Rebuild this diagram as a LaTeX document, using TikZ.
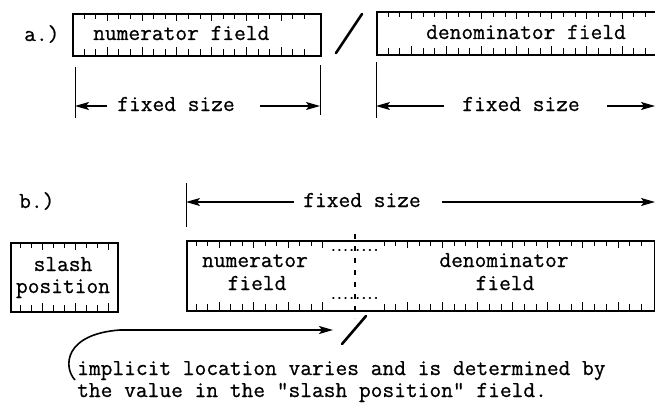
\documentclass[tikz,border=0pt]{standalone}
\usepackage{fontspec}
\usetikzlibrary{arrows.meta}
\newfontfamily\typewriterfont{Latin Modern Mono}[FakeBold=0.7]
\newcommand\typewriterface{\fontsize{22.8}{26}\selectfont\typewriterfont}
% ruler ticks along the inside of a field: first x, second x, last x, top y, bottom y
\newcommand\rulerticks[5]{%
  \foreach \x [count=\i] in {#1,#2,...,#3}{%
    \pgfmathsetmacro\ticklen{mod(\i,3)==0 ? 8 : 6}%
    \draw[tickmark] (\x,#4) -- ++(0,\ticklen);
    \draw[tickmark] (\x,#5) -- ++(0,-\ticklen);
  }}
\tikzset{
  field/.style={draw, line width=1.8pt, inner sep=0pt, anchor=north west},
  tickmark/.style={line width=0.9pt},
  lbl/.style={font=\typewriterface, inner sep=0pt, anchor=base west},
  dimlbl/.style={font=\typewriterface, inner sep=0pt, anchor=base},
  extline/.style={line width=1pt},
  dimarrow/.style={line width=1.3pt, -{Stealth[length=14pt,width=8pt,inset=3pt]}},
  slashmark/.style={line width=2.6pt, line cap=round},
}
\begin{document}
\begin{tikzpicture}[x=1pt,y=-1pt]
\path[use as bounding box] (0,0) rectangle (655,404);
\clip (0,0) rectangle (655,404);

% ---------- a.) fixed numerator and denominator fields ----------
\node[lbl] (tagA) at (24,41) {a.)};
\node[field, minimum width=248pt, minimum height=42pt] (numA) at (72,13) {};
\node[field, minimum width=290pt, minimum height=43pt] (denA) at (376,11) {};
\rulerticks{84}{95.6}{312}{13}{55}
\rulerticks{388}{399.7}{652}{11}{54}
\node[lbl] (numAtxt) at (93,40) {numerator field};
\node[lbl] (denAtxt) at (426,39) {denominator field};

\coordinate (slA1) at (336,53);
\coordinate (slA2) at (362,14);
\draw[slashmark] (slA1) -- (slA2);

% extension lines below the fields
\coordinate (eA1t) at (75,67);  \coordinate (eA1b) at (75,118);
\coordinate (eA2t) at (320,65); \coordinate (eA2b) at (320,115);
\coordinate (eA3t) at (376,62); \coordinate (eA3b) at (376,118);
\draw[extline] (eA1t) -- (eA1b);
\draw[extline] (eA2t) -- (eA2b);
\draw[extline] (eA3t) -- (eA3b);

\coordinate (dA1l) at (75,106);  \coordinate (dA1r) at (320,106);
\coordinate (dA2l) at (376,106); \coordinate (dA2r) at (655,106);
\node[dimlbl] (fsA1) at (176,111) {fixed size};
\node[dimlbl] (fsA2) at (521,111) {fixed size};
\draw[dimarrow, shorten <=10pt] (fsA1.west |- dA1l) -- (dA1l);
\draw[dimarrow, shorten <=25pt] (fsA1.east |- dA1r) -- (dA1r);
\draw[dimarrow, shorten <=18pt] (fsA2.west |- dA2l) -- (dA2l);
\draw[dimarrow, shorten <=27pt] (fsA2.east |- dA2r) -- (dA2r);

% ---------- b.) slash position field and combined fraction field ----------
\node[lbl] (tagB) at (19,208) {b.)};

\coordinate (eBt) at (186,183); \coordinate (eBb) at (186,227);
\draw[extline] (eBt) -- (eBb);
\coordinate (dBl) at (186,202); \coordinate (dBr) at (655,202);
\node[dimlbl] (fsB) at (362,207) {fixed size};
\draw[dimarrow, shorten <=9pt] (fsB.west |- dBl) -- (dBl);
\draw[dimarrow, shorten <=21pt] (fsB.east |- dBr) -- (dBr);

\node[field, minimum width=107pt, minimum height=69pt] (slashpos) at (10,242) {};
\rulerticks{20}{31}{110}{242}{311}
\node[dimlbl] (slashtxt) at (63,271) {slash};
\node[dimlbl] (postxt) at (63,293) {position};

\node[field, minimum width=468pt, minimum height=70pt] (fracB) at (186,240) {};
\rulerticks{196}{207.5}{330}{240}{310}
\rulerticks{384}{395.7}{648}{240}{310}
\node[dimlbl] (numBtxt) at (255,267) {numerator};
\node[dimlbl] (numBtxt2) at (257,290) {field};
\node[dimlbl] (denBtxt) at (504,267) {denominator};
\node[dimlbl] (denBtxt2) at (505,290) {field};

% implicit slash position inside the combined field
\coordinate (divT) at (355,234); \coordinate (divB) at (355,318);
\draw[line width=1.2pt, dash pattern=on 5pt off 7pt] (divT) -- (divB);
\coordinate (dotTl) at (333,250); \coordinate (dotTr) at (381,250);
\coordinate (dotBl) at (333,298); \coordinate (dotBr) at (381,298);
\draw[line width=1.8pt, line cap=round, dash pattern=on 0.6pt off 5.5pt] (dotTl) -- (dotTr);
\draw[line width=1.8pt, line cap=round, dash pattern=on 0.6pt off 5.5pt] (dotBl) -- (dotBr);

\coordinate (slB1) at (342,344);
\coordinate (slB2) at (366,316);
\draw[slashmark] (slB1) -- (slB2);

% explanatory note with its curved pointer
\coordinate (curveStart) at (75,380);
\coordinate (curveTip) at (333,330);
\draw[dimarrow, line width=1.6pt] (curveStart) .. controls (63,367) and (64,334) .. (120,330) -- (curveTip);
\node[lbl] (note1) at (77,375) {implicit location varies and is determined by};
\node[lbl] (note2) at (77,397) {the value in the "slash position" field.};
\end{tikzpicture}
\end{document}
